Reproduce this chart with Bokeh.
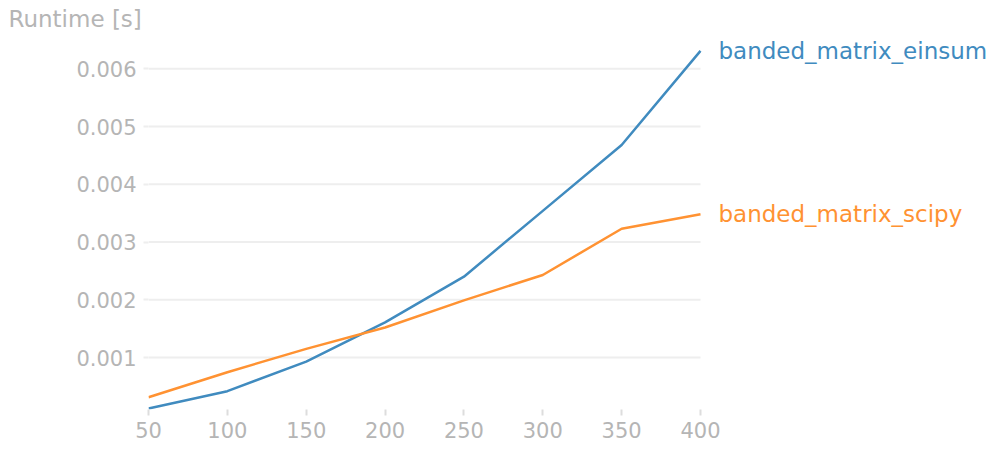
from bokeh.plotting import figure
from bokeh.models import Range1d, FixedTicker, PrintfTickFormatter
from bokeh.core.properties import value
from bokeh.embed import file_html
from bokeh.resources import INLINE

sizes = [50, 100, 150, 200, 250, 300, 350, 400]
einsum = [0.000118, 0.000417, 0.00093, 0.00161, 0.00240, 0.00354, 0.00468, 0.00631]
scipy = [0.000313, 0.000746, 0.00115, 0.00152, 0.00199, 0.00243, 0.00323, 0.00348]
series_names = ["banded_matrix_einsum", "banded_matrix_scipy"]
x_ticks = [50, 100, 150, 200, 250, 300, 350, 400]
y_ticks = [0.001, 0.002, 0.003, 0.004, 0.005, 0.006]

BLUE = "#408bbf"
ORANGE = "#ff9232"
GRAY = "#b5b5b5"
GRID = "#eeeeee"
FONT = "DejaVu Sans"

x_lo, x_hi = sizes[0], sizes[-1]
y_lo, y_hi = 0.0001, 0.0063
# frame extends past the data so the end labels are not clipped
x_end = x_lo + (990 - 148) * (x_hi - x_lo) / 552.0
y_end = y_lo + (409 - 34) * (y_hi - y_lo) / 358.0

p = figure(width=991, height=447, output_backend="svg", toolbar_location=None,
           x_range=Range1d(x_lo, x_end), y_range=Range1d(y_lo, y_end),
           min_border_left=148, min_border_right=1, min_border_top=34,
           min_border_bottom=38)
p.outline_line_color = None
p.background_fill_color = "white"
p.border_fill_color = "white"

p.title.text = "Runtime [s]"
p.title.text_font = FONT
p.title.text_font_size = "23px"
p.title.text_font_style = "normal"
p.title.text_color = GRAY
p.title.align = "left"
p.title.vertical_align = "top"
p.title.offset = -140
p.title.standoff = 2

p.xgrid.grid_line_color = None
p.ygrid.grid_line_color = None

# horizontal gridlines only over the data span
p.segment(x0=[x_lo] * len(y_ticks), x1=[x_hi] * len(y_ticks), y0=y_ticks, y1=y_ticks,
          line_color=GRID, line_width=2, level="underlay")

xa = p.xaxis[0]
xa.ticker = FixedTicker(ticks=x_ticks)
xa.axis_line_color = None
xa.major_tick_line_color = "#dddddd"
xa.major_tick_line_width = 2
xa.major_tick_in = 0
xa.major_tick_out = 6
xa.minor_tick_line_color = None
xa.major_label_text_font = FONT
xa.major_label_text_font_size = "21px"
xa.major_label_text_color = GRAY
xa.major_label_standoff = 6

ya = p.yaxis[0]
ya.ticker = FixedTicker(ticks=y_ticks)
ya.formatter = PrintfTickFormatter(format="%.3f")
ya.axis_line_color = None
ya.major_tick_line_color = GRID
ya.major_tick_line_width = 2
ya.major_tick_in = 0
ya.major_tick_out = 5
ya.minor_tick_line_color = None
ya.major_label_text_font = FONT
ya.major_label_text_font_size = "21px"
ya.major_label_text_color = GRAY
ya.major_label_standoff = 7

p.line(sizes, einsum, line_color=BLUE, line_width=2.5)
p.line(sizes, scipy, line_color=ORANGE, line_width=2.5)

for name, ys, col in zip(series_names, [einsum, scipy], [BLUE, ORANGE]):
    p.text(x=[sizes[-1]], y=[ys[-1]], text=[name], x_offset=18,
           text_font=value(FONT), text_font_size="23px", text_color=col,
           text_baseline="middle", text_align="left")

open("out.html", "w").write(file_html(p, INLINE))
